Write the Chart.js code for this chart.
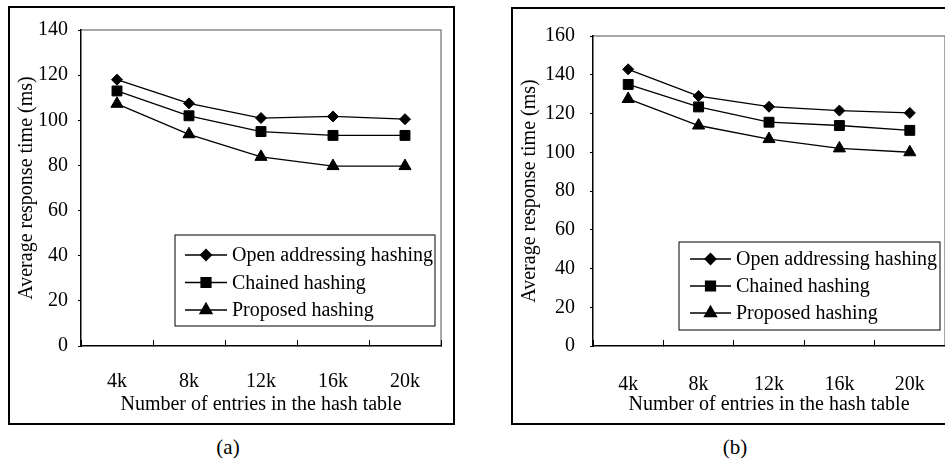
<!DOCTYPE html>
<html>
<head>
<meta charset="utf-8">
<script src="https://cdn.jsdelivr.net/npm/chart.js@4.4.1/dist/chart.umd.min.js"></script>
<style>
  html, body { margin: 0; padding: 0; background: #fff; }
  body { width: 945px; height: 461px; overflow: hidden; position: relative; }
  .panel { position: absolute; border: 2px solid #000; box-sizing: content-box; }
  .caption { position: absolute; font-family: 'Liberation Serif', serif; font-size: 21px; color: #000; transform: translateX(-50%); }
</style>
</head>
<body>
<div class="panel" style="left:8px;top:6px;width:443px;height:415px"><canvas id="chartA"></canvas></div>
<div class="panel" style="left:511px;top:7px;width:447px;height:414px"><canvas id="chartB"></canvas></div>
<div class="caption" style="left:228px;top:435px">(a)</div>
<div class="caption" style="left:735px;top:435px">(b)</div>
<script>
var categories = ["4k", "8k", "12k", "16k", "20k"];
var seriesNames = ["Open addressing hashing", "Chained hashing", "Proposed hashing"];

// panel (a)
var openA = [118, 107.5, 101, 101.7, 100.5];
var chainedA = [113, 102, 95, 93.3, 93.3];
var proposedA = [107.3, 93.8, 83.8, 79.7, 79.7];

// panel (b)
var openB = [142.8, 129, 123.5, 121.5, 120.3];
var chainedB = [135, 123.4, 115.5, 113.8, 111.3];
var proposedB = [127.5, 113.8, 106.8, 102, 100];

Chart.defaults.font.family = "'Liberation Serif', 'Times New Roman', serif";
Chart.defaults.font.size = 20;
Chart.defaults.color = "#000";

var markers = [
  { pointStyle: "rectRot", radius: 5.5 },
  { pointStyle: "rect", radius: 7 },
  { pointStyle: "triangle", radius: 7 },
];

// gray frame on top and right of the plot area
var plotFrame = {
  id: "plotFrame",
  beforeDraw(chart) {
    var a = chart.chartArea, ctx = chart.ctx;
    ctx.save();
    ctx.strokeStyle = "#8a8a8a";
    ctx.lineWidth = 1.5;
    ctx.beginPath();
    ctx.moveTo(a.left, a.top);
    ctx.lineTo(a.right, a.top);
    ctx.lineTo(a.right, a.bottom);
    ctx.stroke();
    ctx.restore();
  },
};

// legend with line + marker samples, boxed inside the plot area
var boxLegend = {
  id: "boxLegend",
  afterDraw(chart, args, opts) {
    var a = chart.chartArea, ctx = chart.ctx;
    var right = a.right - opts.rightInset;
    var bottom = a.bottom - opts.bottomInset;
    var left = right - opts.width;
    var top = bottom - opts.height;
    ctx.save();
    ctx.fillStyle = "#fff";
    ctx.fillRect(left, top, opts.width, opts.height);
    ctx.strokeStyle = "#000";
    ctx.lineWidth = 1;
    ctx.strokeRect(left, top, opts.width, opts.height);
    chart.data.datasets.forEach(function (ds, i) {
      var y = top + opts.firstRow + i * opts.rowGap;
      ctx.strokeStyle = "#000";
      ctx.lineWidth = 1.3;
      ctx.beginPath();
      ctx.moveTo(left + opts.lineStart, y);
      ctx.lineTo(left + opts.lineStart + opts.lineLen, y);
      ctx.stroke();
      ctx.fillStyle = "#000";
      Chart.helpers.drawPoint(ctx, {
        pointStyle: ds.pointStyle,
        radius: ds.pointRadius,
        rotation: 0,
        borderWidth: 1,
      }, left + opts.lineStart + opts.lineLen / 2, y);
      ctx.fillStyle = "#000";
      ctx.font = "20px 'Liberation Serif', serif";
      ctx.textBaseline = "middle";
      ctx.textAlign = "left";
      ctx.fillText(ds.label, left + opts.textStart, y + 1);
    });
    ctx.restore();
  },
};

function makeDatasets(values) {
  return values.map(function (v, i) {
    return {
      label: seriesNames[i],
      data: v,
      borderColor: "#000",
      backgroundColor: "#000",
      borderWidth: 1.3,
      tension: 0,
      pointStyle: markers[i].pointStyle,
      pointRadius: markers[i].radius,
      pointBorderWidth: 1,
      pointBorderColor: "#000",
      pointBackgroundColor: "#000",
    };
  });
}

function makeChart(id, values, cfg) {
  return new Chart(document.getElementById(id), {
    type: "line",
    data: { labels: categories, datasets: makeDatasets(values) },
    options: {
      responsive: true,
      maintainAspectRatio: false,
      animation: false,
      events: [],
      layout: { padding: { left: 0, top: cfg.padTop, right: cfg.padRight, bottom: 0 } },
      plugins: {
        legend: { display: false },
        tooltip: { enabled: false },
        boxLegend: cfg.legend,
      },
      scales: {
        x: {
          type: "category",
          offset: true,
          grid: {
            offset: true,
            drawOnChartArea: false,
            color: "#000",
            tickLength: -6,
            tickWidth: 1,
          },
          border: { color: "#000", width: 1.5 },
          ticks: { padding: cfg.xTickPad, font: { size: 20 } },
          title: {
            display: true,
            text: "Number of entries in the hash table",
            font: { size: 20 },
            padding: { top: 0, bottom: 6 },
          },
          afterFit(scale) { scale.height = cfg.xHeight; },
        },
        y: {
          min: 0,
          max: cfg.yMax,
          ticks: { stepSize: 20, padding: cfg.yTickPad, font: { size: 20 } },
          grid: { drawOnChartArea: false, color: "#000", tickLength: 3, tickWidth: 1 },
          border: { color: "#000", width: 1.5 },
          title: {
            display: true,
            text: "Average response time (ms)",
            font: { size: 20 },
            padding: { top: 5, bottom: 0 },
          },
          afterFit(scale) { scale.width = cfg.yWidth; },
        },
      },
    },
    plugins: [plotFrame, boxLegend],
  });
}

window.addEventListener("load", function () {
  makeChart("chartA", [openA, chainedA, proposedA], {
    yMax: 140, padTop: 19, padRight: 12, yWidth: 71, xHeight: 77, xTickPad: 30, yTickPad: 10,
    legend: { rightInset: 6, bottomInset: 20, width: 260, height: 91, firstRow: 20, rowGap: 27.5, lineStart: 10, lineLen: 42, textStart: 57 },
  });
  makeChart("chartB", [openB, chainedB, proposedB], {
    yMax: 160, padTop: 23, padRight: 15, yWidth: 80, xHeight: 77, xTickPad: 33, yTickPad: 15,
    legend: { rightInset: 5, bottomInset: 16, width: 261, height: 88, firstRow: 17, rowGap: 27, lineStart: 11, lineLen: 41, textStart: 57 },
  });
});
</script>
</body>
</html>
